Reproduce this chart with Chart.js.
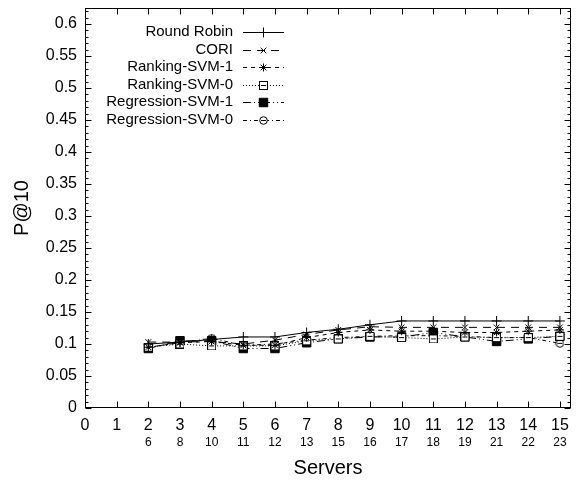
<!DOCTYPE html>
<html><head><meta charset="utf-8">
<script src="https://cdn.jsdelivr.net/npm/chart.js@4"></script>
<style>html,body{margin:0;padding:0;background:#fff}#wrap{width:578px;height:484px}</style>
</head><body><div id="wrap"><canvas id="c" width="578" height="484"></canvas></div>
<script>
// ---- data ----
const servers = [2,3,4,5,6,7,8,9,10,11,12,13,14,15];
const secondaryLabels = ['6','8','10','11','12','13','15','16','17','18','19','21','22','23'];
const xTickValues = [0,1,2,3,4,5,6,7,8,9,10,11,12,13,14,15];
const yTickValues = [0,0.05,0.1,0.15,0.2,0.25,0.3,0.35,0.4,0.45,0.5,0.55,0.6];
const seriesNames = ['Round Robin','CORI','Ranking-SVM-1','Ranking-SVM-0','Regression-SVM-1','Regression-SVM-0'];
const roundRobin     = [0.100,0.103,0.107,0.111,0.111,0.118,0.123,0.130,0.136,0.136,0.136,0.136,0.136,0.136];
const cori           = [0.103,0.103,0.104,0.100,0.106,0.115,0.122,0.127,0.126,0.126,0.126,0.126,0.126,0.126];
const rankingSvm1    = [0.095,0.102,0.104,0.098,0.098,0.110,0.118,0.122,0.120,0.120,0.118,0.118,0.120,0.122];
const rankingSvm0    = [0.095,0.100,0.097,0.097,0.097,0.105,0.108,0.112,0.110,0.108,0.111,0.110,0.110,0.112];
const regressionSvm1 = [0.093,0.105,0.105,0.093,0.093,0.102,0.108,0.111,0.111,0.118,0.111,0.104,0.108,0.112];
const regressionSvm0 = [0.095,0.102,0.109,0.098,0.100,0.106,0.110,0.112,0.113,0.113,0.112,0.110,0.110,0.101];

const FONT = '"Liberation Sans", Arial, Helvetica, sans-serif';
Chart.defaults.font.family = FONT;
Chart.defaults.color = '#000';

function makeMarker(kind){
  const c = document.createElement('canvas');
  c.width = 9; c.height = 9;
  const g = c.getContext('2d');
  g.fillStyle = '#fff'; g.strokeStyle = '#000'; g.lineWidth = 1;
  if (kind === 'sq') {
    g.fillRect(0.5,0.5,8,8); g.strokeRect(0.5,0.5,8,8);
  } else {
    g.beginPath(); g.arc(4.5,4.5,3.8,0,Math.PI*2); g.fill(); g.stroke();
  }
  g.beginPath(); g.moveTo(2,4.5); g.lineTo(7,4.5); g.stroke();
  return c;
}
const sqMarker = makeMarker('sq');
const ciMarker = makeMarker('ci');

function pts(arr){ return servers.map((s,i)=>({x:s,y:arr[i]})); }
function ds(label, arr, dash, style, radius, fill){
  return {label, data: pts(arr), borderColor:'#000', backgroundColor: fill||'#000', borderWidth:1,
    borderDash: dash, pointStyle: style, pointRadius: radius, pointBorderWidth:1,
    pointBackgroundColor: fill||'#000', pointBorderColor:'#000', tension:0, fill:false};
}
const datasets = [
  ds(seriesNames[0], roundRobin, [], 'cross', 5),
  ds(seriesNames[1], cori, [8,6], 'crossRot', 4),
  ds(seriesNames[2], rankingSvm1, [4,4], 'star', 4),
  ds(seriesNames[3], rankingSvm0, [1,2], sqMarker, 5, '#fff'),
  ds(seriesNames[4], regressionSvm1, [8,3,1,3,1,3], 'rect', 6),
  ds(seriesNames[5], regressionSvm0, [4,3,1,3], ciMarker, 5, '#fff'),
];

const frameTicks = {
  id:'frameTicks',
  beforeDatasetsDraw(chart){
    const {ctx, chartArea:a, scales:{x,y}} = chart;
    ctx.save();
    ctx.strokeStyle = '#000'; ctx.lineWidth = 1; ctx.setLineDash([]);
    const L = Math.round(a.left)+0.5, R = Math.round(a.right)-0.5, T = Math.round(a.top)+0.5, B = Math.round(a.bottom)-0.5;
    ctx.strokeRect(L, T, R-L, B-T);
    ctx.beginPath();
    xTickValues.forEach(v=>{
      const px = Math.round(x.getPixelForValue(v))+0.5;
      ctx.moveTo(px,B); ctx.lineTo(px,B-6);
      ctx.moveTo(px,T); ctx.lineTo(px,T+6);
    });
    for (let k=0;k<=62;k++){
      const v = k/100;
      const py = Math.round(y.getPixelForValue(v))+0.5;
      const len = (k%5===0)?6:3;
      ctx.moveTo(L,py); ctx.lineTo(L+len,py);
      ctx.moveTo(R,py); ctx.lineTo(R-len,py);
    }
    ctx.stroke();
    ctx.restore();
  }
};

const legendPlugin = {
  id:'legendBox',
  afterDatasetsDraw(chart){
    const ctx = chart.ctx;
    const textRight = 233, x0 = 243, x1 = 284, xm = 263.5, top = 32, step = 17.6;
    chart.data.datasets.forEach((d,i)=>{
      const yy = Math.round(top + i*step);
      ctx.save();
      ctx.font = '15px ' + FONT;
      ctx.textAlign = 'right'; ctx.textBaseline = 'middle'; ctx.fillStyle = '#000';
      ctx.fillText(d.label, textRight, yy);
      ctx.strokeStyle = '#000'; ctx.lineWidth = 1; ctx.setLineDash(d.borderDash||[]);
      ctx.beginPath(); ctx.moveTo(x0, yy+0.5); ctx.lineTo(x1, yy+0.5); ctx.stroke();
      ctx.setLineDash([]);
      ctx.fillStyle = d.pointBackgroundColor; ctx.strokeStyle = '#000';
      Chart.helpers.drawPoint(ctx, {pointStyle:d.pointStyle, radius:d.pointRadius, borderWidth:1, rotation:0}, xm, yy+0.5);
      ctx.restore();
    });
  }
};

function fixTicks(vals){ return s => { s.ticks = vals.map(v=>({value:v})); }; }
function noPad(s){ s.paddingTop = 0; s.paddingBottom = 0; s.paddingLeft = 0; s.paddingRight = 0; }

new Chart(document.getElementById('c'), {
  type:'line',
  data:{datasets},
  plugins:[frameTicks, legendPlugin],
  options:{
    responsive:false, animation:false, devicePixelRatio:1,
    layout:{padding:{top:8,right:2,left:0,bottom:0}},
    plugins:{legend:{display:false}, tooltip:{enabled:false}},
    scales:{
      x:{type:'linear', position:'bottom', min:0, max:15.35,
        grid:{display:false, drawTicks:false}, border:{display:false},
        ticks:{font:{size:16}, color:'#000', padding:8, maxRotation:0, autoSkip:false, callback:v=>String(v)},
        afterBuildTicks: fixTicks(xTickValues),
        afterFit: s=>{ s.height = 24; noPad(s); }},
      x2:{type:'linear', position:'bottom', min:0, max:15.35,
        grid:{display:false, drawTicks:false}, border:{display:false},
        ticks:{font:{size:12}, color:'#000', padding:3, maxRotation:0, autoSkip:false,
          callback:v=>{ const i = servers.indexOf(v); return i>=0 ? secondaryLabels[i] : ''; }},
        afterBuildTicks: fixTicks(xTickValues),
        title:{display:true, text:'Servers', font:{size:20}, color:'#000', padding:{top:0,bottom:4}},
        afterFit: s=>{ s.height = 52; noPad(s); }},
      y:{type:'linear', position:'left', min:0, max:0.625,
        grid:{display:false, drawTicks:false}, border:{display:false},
        ticks:{font:{size:16}, color:'#000', padding:8, callback:v=>String(+v.toFixed(2))},
        afterBuildTicks: fixTicks(yTickValues),
        title:{display:true, text:'P@10', font:{size:20}, color:'#000', padding:{top:10,bottom:0}},
        afterFit: s=>{ s.width = 85; noPad(s); }}
    }
  }
});
</script></body></html>
